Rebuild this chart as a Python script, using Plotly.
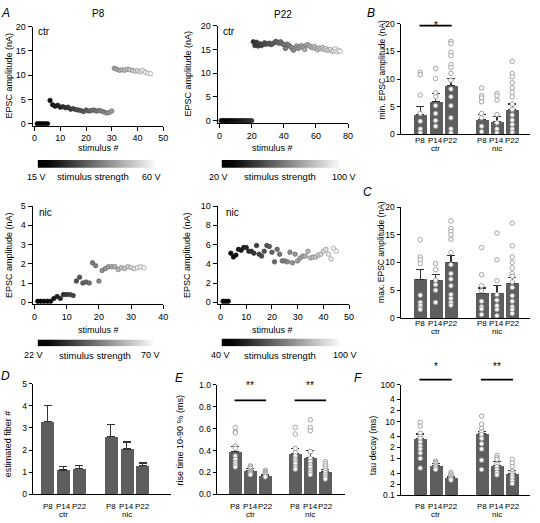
import plotly.graph_objects as go

W, H = 540, 523
FONT = "Liberation Sans, Arial, Helvetica, sans-serif"

# ---------------- data ----------------
# Panel A: EPSC amplitude (nA) per stimulus #
a_ctr_p8_y = [0, 0, 0, 0, 0,
              4.8, 3.9, 3.6, 3.8, 3.4, 3.5, 3.3, 3.4, 3.0, 3.1,
              2.9, 2.8, 2.7, 2.5, 2.8, 2.6, 2.7, 2.8, 2.6, 2.7,
              2.6, 2.4, 2.2, 2.3, 2.6,
              11.4, 11.2, 11.0, 11.1, 11.0, 11.2, 11.1, 11.0, 10.8, 10.9,
              10.7, 11.0, 10.6, 10.4, 10.3]
a_ctr_p22_y = [0] * 20 + [
    16.6, 15.8, 16.5, 15.7, 16.2, 15.8, 16.0, 16.4, 16.1, 16.2,
    16.3, 16.0, 16.2, 16.4, 16.7, 16.5, 16.3, 16.6, 16.2, 16.0,
    15.2, 16.1, 15.9, 15.6, 15.3, 14.8, 15.3, 15.7, 15.2, 15.5,
    15.8, 15.4, 15.0, 15.9, 16.0, 15.7, 15.5, 15.3, 15.6, 15.2,
    14.9, 15.3, 15.1, 15.4, 15.0, 15.2, 14.8, 14.9, 15.0, 14.6,
    14.7, 15.1, 14.5, 14.8, 14.6]
a_nic_p8_y = [0.05, 0.05, 0.05, 0.05, 0.05, 0.2, 0.3, 0.2, 0.4, 0.4,
              0.4, 0.35, 1.1, 1.3, 1.0, 1.05, 1.0, 2.05, 1.9, 1.1,
              1.65, 1.75, 1.85, 1.85, 1.85, 1.7, 1.8, 1.75, 1.85, 1.8,
              1.75, 1.8, 1.85, 1.8]
a_nic_p22_y = [0.1, 0.1, 0.1,
               5.1, 4.7, 4.9, 5.5, 5.4, 5.7, 5.7, 5.3, 5.3, 5.1,
               5.9, 5.0, 4.8, 5.3, 5.9, 5.8, 5.2, 4.2, 5.5, 5.0,
               4.3, 4.3, 4.2, 5.2, 4.1, 5.0, 4.3, 4.6, 4.8, 4.8,
               5.3, 4.6, 4.7, 4.7, 4.9, 5.0, 5.3, 5.5, 5.0, 4.5, 5.6, 5.3]
# stimulus strength ranges (V)
v_ctr_p8 = [15, 60]
v_ctr_p22 = [20, 100]
v_nic_p8 = [22, 70]
v_nic_p22 = [40, 100]

# Bar panels
ages = ["P8", "P14", "P22"]
groups = ["ctr", "nic"]
positions = [0, 1, 2, 4, 5, 6]

b_mean = [3.6, 6.0, 8.8, 2.7, 2.3, 4.5]
b_err = [5.0, 7.4, 10.1, 3.6, 3.3, 5.5]
b_pts = [
    [11.2, 10.8, 7.1, 3.8, 2.4, 1.0, 0.3],
    [11.9, 10.1, 7.5, 6.8, 5.2, 3.8, 2.5, 1.5],
    [16.8, 16.4, 14.8, 14.2, 12.6, 12.1, 11.0, 9.8, 8.2, 6.8, 5.2, 3.0, 1.0, 0.3],
    [8.4, 7.0, 6.6, 5.9, 3.8, 3.0, 1.5, 0.5],
    [7.4, 7.0, 6.2, 3.6, 2.1, 1.0, 0.3],
    [13.2, 11.0, 10.4, 9.3, 8.4, 7.6, 6.8, 5.5, 4.5, 3.5, 2.6, 1.8, 1.0, 0.4],
]
c_mean = [7.0, 6.8, 10.0, 4.4, 4.4, 6.2]
c_err = [8.8, 7.8, 11.2, 5.4, 5.8, 7.3]
c_pts = [
    [14.1, 11.0, 10.5, 9.8, 4.1, 2.8, 2.3, 1.8, 1.5],
    [9.8, 8.7, 6.8, 6.0, 5.0, 2.8],
    [17.5, 16.1, 15.6, 15.0, 14.2, 11.8, 9.6, 8.0, 7.0, 5.8, 4.2, 3.5, 2.8, 2.3],
    [12.7, 7.8, 5.8, 4.9, 3.0, 2.0, 1.6, 0.6],
    [15.3, 10.5, 6.7, 4.2, 3.2, 2.2, 1.5, 0.4],
    [17.1, 13.0, 11.0, 10.0, 9.0, 8.0, 7.5, 6.5, 5.5, 4.0, 3.0, 2.0, 1.5, 0.8],
]
d_mean = [3.3, 1.1, 1.17, 2.6, 2.05, 1.3]
d_err = [4.0, 1.27, 1.3, 3.15, 2.37, 1.42]
e_mean = [0.39, 0.215, 0.175, 0.375, 0.335, 0.205]
e_err = [0.44, 0.235, 0.185, 0.42, 0.40, 0.225]
e_pts = [
    [0.61, 0.57, 0.56, 0.44, 0.42, 0.35, 0.32, 0.29, 0.27, 0.25],
    [0.26, 0.25, 0.24, 0.22, 0.21, 0.20, 0.19, 0.18],
    [0.22, 0.21, 0.20, 0.19, 0.18, 0.17, 0.16],
    [0.61, 0.55, 0.42, 0.38, 0.35, 0.32, 0.30, 0.28, 0.25, 0.23],
    [0.68, 0.61, 0.58, 0.39, 0.33, 0.30, 0.27, 0.25, 0.22, 0.20, 0.18],
    [0.30, 0.28, 0.26, 0.24, 0.22, 0.20, 0.18, 0.16, 0.14],
]
f_mean = [3.4, 0.65, 0.30, 4.6, 0.65, 0.38]
f_err = [4.6, 0.75, 0.33, 5.5, 0.83, 0.48]
f_pts = [
    [9.5, 7.5, 4.8, 4.0, 3.5, 2.8, 2.2, 1.8, 1.4, 1.0, 0.55],
    [0.85, 0.78, 0.72, 0.65, 0.60, 0.55, 0.50],
    [0.42, 0.38, 0.35, 0.32, 0.30, 0.28, 0.26],
    [14, 8.5, 6.5, 5.2, 4.5, 3.5, 2.5, 1.8, 0.9, 0.5],
    [1.2, 1.05, 0.95, 0.7, 0.6, 0.5, 0.42, 0.36],
    [0.95, 0.75, 0.6, 0.45, 0.40, 0.35, 0.30, 0.25, 0.21],
]
f_tickvals = [0.1, 0.2, 0.4, 1, 2, 4, 10, 20, 40, 100]
f_ticktext = ["0.1", "2", "4", "1", "2", "4", "10", "2", "4", "100"]

# ---------------- helpers ----------------
GRAD = [[0, "#000000"], [0.1, "#080808"], [1, "#fbfbfb"]]
LINEGRAD = [[0, "#000000"], [0.3, "#333333"], [1, "#9a9a9a"]]
BAR_COLOR = "#5e5e5e"


def xd(p0, p1):
    return [p0 / W, p1 / W]


def yd(p0, p1):
    return [1 - p1 / H, 1 - p0 / H]


def axstyle(**kw):
    d = dict(showline=True, linecolor="black", linewidth=1, ticks="outside",
             ticklen=4, tickwidth=1, tickcolor="black", showgrid=False,
             zeroline=False, tickfont=dict(size=9, family=FONT, color="black"))
    d.update(kw)
    return d


annotations = []
shapes = []


def ann(text, px, py, size=9, angle=0, xanchor="center", yanchor="middle"):
    annotations.append(dict(text=text, x=px / W, y=1 - py / H, xref="paper",
                            yref="paper", showarrow=False, textangle=angle,
                            xanchor=xanchor, yanchor=yanchor,
                            font=dict(size=size, family=FONT, color="black")))


fig = go.Figure()
layout = {}

# ---------------- Panel A scatter ----------------
a_specs = [
    # (n, y, xdom px, ydom px, xrange, xdtick, yrange, ydtick)
    (1, a_ctr_p8_y, (32, 164), (22, 123), [-0.77, 50], 10, [-0.4, 20], 5),
    (2, a_ctr_p22_y, (219, 351), (21, 120), [-1.23, 80], 20, [-0.41, 20], 5),
    (3, a_nic_p8_y, (32, 164), (205, 305), [-0.6, 40], 10, [-0.1, 5], 1),
    (4, a_nic_p22_y, (219, 352), (205, 305), [-1.15, 50], 10, [-0.2, 10], 2),
]
for n, yv, xp, yp, xr, xdt, yr, ydt in a_specs:
    xv = list(range(1, len(yv) + 1))
    fig.add_trace(go.Scatter(
        x=xv, y=yv, mode="markers", xaxis=f"x{n}", yaxis=f"y{n}",
        showlegend=False, hoverinfo="skip",
        marker=dict(size=4.5, color=xv, colorscale=GRAD, cmin=xv[0], cmax=xv[-1],
                    line=dict(width=0.7, color=xv, colorscale=LINEGRAD,
                              cmin=xv[0], cmax=xv[-1]))))
    layout[f"xaxis{n}"] = axstyle(domain=xd(*xp), range=xr, dtick=xdt, tick0=0,
                                  anchor=f"y{n}")
    layout[f"yaxis{n}"] = axstyle(domain=yd(*yp), range=yr, dtick=ydt, tick0=0,
                                  anchor=f"x{n}")

# colour strips (stimulus strength)
strips = [
    (10, v_ctr_p8, (37, 155), (158, 166)),
    (11, v_ctr_p22, (223, 342), (158, 166)),
    (12, v_nic_p8, (37, 154), (341, 348)),
    (13, v_nic_p22, (223, 342), (340, 348)),
]
for n, vr, xp, yp in strips:
    fig.add_trace(go.Heatmap(z=[vr, vr], x=vr, y=[0, 1], colorscale=GRAD,
                             zmin=vr[0], zmax=vr[1], zsmooth="best",
                             showscale=False, hoverinfo="skip",
                             xaxis=f"x{n}", yaxis=f"y{n}"))
    layout[f"xaxis{n}"] = dict(domain=xd(*xp), range=vr, visible=False,
                               anchor=f"y{n}", fixedrange=True)
    layout[f"yaxis{n}"] = dict(domain=yd(*yp), range=[0, 1], visible=False,
                               anchor=f"x{n}", fixedrange=True)

# ---------------- bar panels ----------------
def bar_panel(n, means, errs, pts, xp, yp, xr, yaxis_kw, py_age, py_grp,
              width=0.84):
    fig.add_trace(go.Bar(
        x=positions, y=means, width=width, marker=dict(color=BAR_COLOR, line=dict(width=0)),
        xaxis=f"x{n}", yaxis=f"y{n}", showlegend=False, hoverinfo="skip",
        error_y=dict(type="data", symmetric=False,
                     array=[e - m for e, m in zip(errs, means)],
                     arrayminus=[0] * len(means), color="#333333",
                     thickness=1.2, width=4)))
    if pts is not None:
        for pos, p in zip(positions, pts):
            fig.add_trace(go.Scatter(
                x=[pos] * len(p), y=p, mode="markers", xaxis=f"x{n}",
                yaxis=f"y{n}", showlegend=False, hoverinfo="skip",
                marker=dict(size=4.5, color="white",
                            line=dict(width=0.9, color="#9a9a9a"))))
    layout[f"xaxis{n}"] = axstyle(domain=xd(*xp), range=xr, tickvals=positions,
                                  showticklabels=False, ticks="",
                                  anchor=f"y{n}")
    layout[f"yaxis{n}"] = axstyle(domain=yd(*yp), anchor=f"x{n}", ticklen=3,
                                  tickfont=dict(size=8.5, family=FONT, color="black"),
                                  **yaxis_kw)
    for pos, lab in zip(positions, ages * 2):
        annotations.append(dict(text=lab, x=pos, xref=f"x{n}", y=1 - py_age / H,
                                yref="paper", showarrow=False, borderpad=0,
                                yanchor="middle",
                                font=dict(size=8, family=FONT, color="black")))
    for g, pos in zip(groups, [1, 5]):
        annotations.append(dict(text=g, x=pos, xref=f"x{n}", y=1 - py_grp / H,
                                yref="paper", showarrow=False, borderpad=0,
                                yanchor="middle",
                                font=dict(size=8, family=FONT, color="black")))


bar_panel(5, b_mean, b_err, b_pts, (404, 535), (19, 132), [-1.29, 7.16],
          dict(range=[0, 20], dtick=5, tick0=0), 138, 146)
bar_panel(6, c_mean, c_err, c_pts, (404, 535), (206, 319), [-1.29, 7.16],
          dict(range=[0, 20], dtick=5, tick0=0), 325, 333)
bar_panel(7, d_mean, d_err, None, (32, 172), (386, 499), [-0.94, 7.8],
          dict(range=[0, 5], dtick=1, tick0=0), 511, 519, width=0.82)
bar_panel(8, e_mean, e_err, e_pts, (218, 348), (387, 499), [-1.25, 7.32],
          dict(range=[0, 1.0], dtick=0.2, tick0=0, tickformat=".1f"), 511, 519)
bar_panel(9, f_mean, f_err, f_pts, (404, 535), (387, 500), [-1.29, 7.16],
          dict(type="log", range=[-1, 2], tickvals=f_tickvals,
               ticktext=f_ticktext), 511, 519)

# significance bars
sig = [
    (5, 0, 2, 21, 13, "*"),
    (8, 0, 2, 403, 396, "**"),
    (8, 4, 6, 403, 396, "**"),
    (9, 0, 2, 382, 376, "*"),
    (9, 4, 6, 382, 376, "**"),
]
for n, x0, x1, py, pys, txt in sig:
    shapes.append(dict(type="line", xref=f"x{n}", yref="paper", x0=x0 - 0.05,
                       x1=x1 + 0.05, y0=1 - py / H, y1=1 - py / H,
                       line=dict(color="black", width=1.8)))
    annotations.append(dict(text=txt, x=(x0 + x1) / 2, xref=f"x{n}",
                            y=1 - pys / H, yref="paper", showarrow=False,
                            font=dict(size=10, family=FONT, color="black")))

# ---------------- text ----------------
for letter, px, py in [("A", 5, 8), ("B", 374, 8), ("C", 371, 191),
                       ("D", 5, 378), ("E", 180, 380), ("F", 361, 380)]:
    ann(f"<i>{letter}</i>", px, py, size=12)
ann("P8", 99, 9, size=10)
ann("P22", 285, 10, size=10)
ann("ctr", 35, 27, size=10, xanchor="left")
ann("ctr", 222, 27, size=10, xanchor="left")
ann("nic", 36, 212, size=10, xanchor="left")
ann("nic", 225, 212, size=10, xanchor="left")
for px, py in [(99, 146), (275, 146), (99, 331), (275, 331)]:
    ann("stimulus #", px, py, size=9)
for px, py in [(8, 72), (189, 70), (8, 255), (188, 255)]:
    ann("EPSC amplitude (nA)", px, py, size=9, angle=-90)
ann("min. EPSC amplitude (nA)", 385, 66, size=8.5, angle=-90)
ann("max. EPSC amplitude (nA)", 384, 252, size=8.5, angle=-90)
ann("estimated fiber #", 8, 447, size=9, angle=-90)
ann("rise time 10-90 % (ms)", 181, 443, size=9, angle=-90)
ann("tau decay (ms)", 377, 449, size=9, angle=-90)
# stimulus strength rows
ann(f"{v_ctr_p8[0]} V", 36, 175)
ann("stimulus strength", 93, 175, size=9.5)
ann(f"{v_ctr_p8[1]} V", 152, 175)
ann(f"{v_ctr_p22[0]} V", 220, 175)
ann("stimulus strength", 282, 175, size=9.5)
ann(f"{v_ctr_p22[1]} V", 347, 175)
ann(f"{v_nic_p8[0]} V", 33, 357)
ann("stimulus strength", 95, 357, size=9.5)
ann(f"{v_nic_p8[1]} V", 151, 357)
ann(f"{v_nic_p22[0]} V", 222, 357)
ann("stimulus strength", 282, 357, size=9.5)
ann(f"{v_nic_p22[1]} V", 348, 357)

fig.update_layout(
    width=W, height=H, margin=dict(l=0, r=0, t=0, b=0),
    paper_bgcolor="white", plot_bgcolor="rgba(0,0,0,0)",
    font=dict(family=FONT, size=9, color="black"),
    showlegend=False, bargap=0, annotations=annotations, shapes=shapes,
    hovermode=False, **layout)

fig.write_html("out.html", config={"displayModeBar": False},
               post_script="document.body.style.margin='0px';"
                           "document.body.style.padding='0px';"
                           "document.body.style.overflow='hidden';")
